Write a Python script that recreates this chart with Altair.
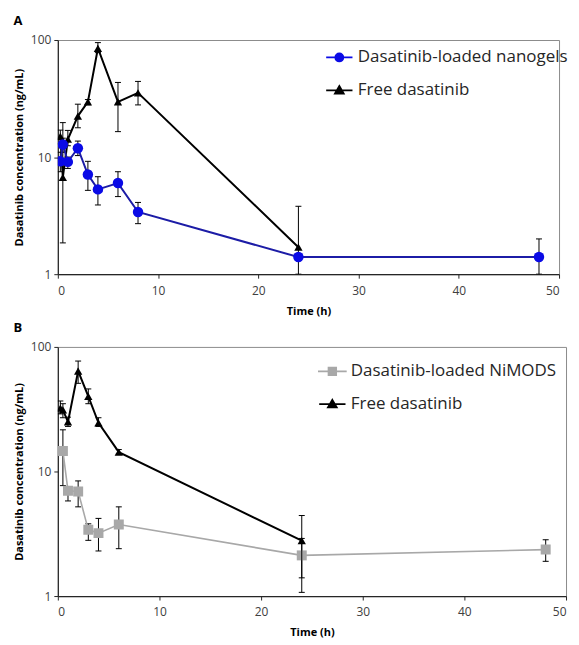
import altair as alt
import pandas as pd

# ---------------- Panel A data ----------------
tA_nano = [0.25, 0.5, 1, 2, 3, 4, 6, 8, 24, 48]
nano = [9.2, 12.8, 9.1, 11.9, 7.1, 5.3, 6.0, 3.4, 1.4, 1.4]
nano_lo = [7.5, 11.0, 8.0, 10.3, 5.2, 3.9, 4.6, 2.7, 1.4, 1.0]
nano_hi = [11.0, 14.5, 10.0, 13.7, 9.2, 6.8, 7.5, 4.1, 1.4, 2.0]

tA_free = [0.25, 0.5, 1, 2, 3, 4, 6, 8, 24]
freeA = [15.0, 6.7, 14.2, 22.4, 29.6, 85.0, 29.6, 35.4, 1.7]
freeA_lo = [13.0, 1.85, 12.5, 17.8, 28.0, 78.0, 16.5, 27.9, 1.0]
freeA_hi = [17.0, 19.7, 16.9, 28.3, 31.0, 95.0, 43.4, 44.3, 3.8]

# ---------------- Panel B data ----------------
tB_nim = [0.5, 1, 2, 3, 4, 6, 24, 48]
nim = [14.6, 7.0, 6.9, 3.4, 3.2, 3.75, 2.12, 2.36]
nim_lo = [7.7, 5.8, 5.2, 2.8, 2.3, 2.4, 1.4, 1.9]
nim_hi = [21.6, 7.5, 8.4, 3.8, 4.2, 5.2, 2.9, 2.83]

tB_free = [0.25, 0.5, 1, 2, 3, 4, 6, 24]
freeB = [32.2, 31.2, 25.0, 64.0, 40.0, 24.6, 14.3, 2.78]
freeB_lo = [29.0, 27.0, 23.0, 51.0, 35.0, 23.0, 13.8, 1.07]
freeB_hi = [36.8, 35.0, 27.3, 77.0, 46.0, 27.0, 15.0, 4.43]

x_ticks = [0, 10, 20, 30, 40, 50]
y_ticks = [1, 10, 100]

FONT = "Open Sans"
BLUE_LINE = "#1c1ca6"
BLUE_PT = "#0a0ae6"
GRAY = "#a8a8a8"
BLACK = "#000000"

# legend symbol paths (line + marker)
P_CIRCLE = "M-3.3,0H3.3M1,0A1,1 0 1,1 -1,0A1,1 0 1,1 1,0Z"
P_TRI = "M-3.3,0H3.3M0,-1.1L1.1,0.8L-1.1,0.8Z"
P_SQ = "M-3.6,0H3.6M-0.95,-0.95H0.95V0.95H-0.95Z"


def xenc():
    return alt.X("t:Q", scale=alt.Scale(domain=[0, 50], nice=False),
                 axis=alt.Axis(values=x_ticks, title="Time (h)", grid=False))


def yenc(field="v"):
    return alt.Y(f"{field}:Q",
                 scale=alt.Scale(type="log", domain=[1, 100], nice=False),
                 axis=alt.Axis(values=y_ticks, format="d", grid=False,
                               title="Dasatinib concentration (ng/mL)"))


def series_layers(t, v, lo, hi, line_color, pt_color, shape, pt_size, lw):
    df = pd.DataFrame({"t": t, "v": v, "lo": lo, "hi": hi})
    base = alt.Chart(df)
    err = base.mark_rule(color=BLACK, strokeWidth=1, clip=True).encode(
        x=xenc(), y=yenc("lo"), y2="hi:Q")
    cap_hi = base.mark_rule(color=BLACK, strokeWidth=1, clip=True,
                            xOffset=-3, x2Offset=3).encode(
        x=xenc(), x2="t:Q", y=yenc("hi"))
    cap_lo = base.mark_rule(color=BLACK, strokeWidth=1, clip=True,
                            xOffset=-3, x2Offset=3).encode(
        x=xenc(), x2="t:Q", y=yenc("lo"))
    line = base.mark_line(color=line_color, strokeWidth=lw, clip=True).encode(
        x=xenc(), y=yenc())
    pts = base.mark_point(filled=True, shape=shape, size=pt_size,
                          color=pt_color, opacity=1, clip=True).encode(
        x=xenc(), y=yenc())
    return [err, cap_hi, cap_lo, line, pts]


def legend_layer(names, colors, paths, lx, ly):
    df = pd.DataFrame({"series": names, "t": [1] * len(names), "v": [10] * len(names)})
    leg = alt.Legend(title=None, orient="none", legendX=lx, legendY=ly,
                     labelFont=FONT, labelFontSize=17, labelColor="#262626",
                     symbolSize=64, symbolStrokeWidth=1.8, labelOffset=10,
                     rowPadding=15, padding=0, labelLimit=400)
    sc = alt.Scale(domain=names, range=colors)
    return alt.Chart(df).mark_point(filled=True, opacity=1).encode(
        x=xenc(), y=yenc(),
        fill=alt.Fill("series:N", scale=sc, legend=leg),
        stroke=alt.Stroke("series:N", scale=sc, legend=leg),
        shape=alt.Shape("series:N", scale=alt.Scale(domain=names, range=paths), legend=leg),
    ).transform_filter("false")


panelA = alt.layer(
    *series_layers(tA_free, freeA, freeA_lo, freeA_hi, BLACK, BLACK, "triangle-up", 70, 2),
    *series_layers(tA_nano, nano, nano_lo, nano_hi, BLUE_LINE, BLUE_PT, "circle", 110, 2),
    legend_layer(["Dasatinib-loaded nanogels", "Free dasatinib"],
                 [BLUE_PT, BLACK], [P_CIRCLE, P_TRI], 274, 9),
).properties(width=503, height=235,
             title=alt.Title("A", anchor="start", frame="bounds", fontSize=13,
                             font=FONT, fontWeight="bold", offset=6))

panelB = alt.layer(
    *series_layers(tB_nim, nim, nim_lo, nim_hi, GRAY, GRAY, "square", 100, 1.6),
    *series_layers(tB_free, freeB, freeB_lo, freeB_hi, BLACK, BLACK, "triangle-up", 70, 2),
    legend_layer(["Dasatinib-loaded NiMODS", "Free dasatinib"],
                 [GRAY, BLACK], [P_SQ, P_TRI], 267, 16),
).properties(width=510, height=250,
             title=alt.Title("B", anchor="start", frame="bounds", fontSize=13,
                             font=FONT, fontWeight="bold", offset=6))

chart = alt.vconcat(panelA, panelB, spacing=4).resolve_scale(
    fill="independent", stroke="independent", shape="independent"
).resolve_legend(fill="independent", stroke="independent", shape="independent"
).properties(padding={"left": 4, "top": 5, "right": 2, "bottom": 0},
             background="white"
).configure_view(stroke="#8c8c8c", strokeWidth=1
).configure_axis(
    grid=False, domainColor="#262626", domainWidth=1.2, tickColor="#262626",
    tickSize=4, labelFont=FONT, labelFontSize=12, labelColor="#404040",
    titleFont=FONT, titleFontSize=11, titleFontWeight="bold", titleColor="#000000",
    labelPadding=3,
).configure_axisY(titlePadding=6
).configure_axisX(labelPadding=7, titlePadding=9)

chart.save("out.html", embed_options={"renderer": "svg", "actions": False})
